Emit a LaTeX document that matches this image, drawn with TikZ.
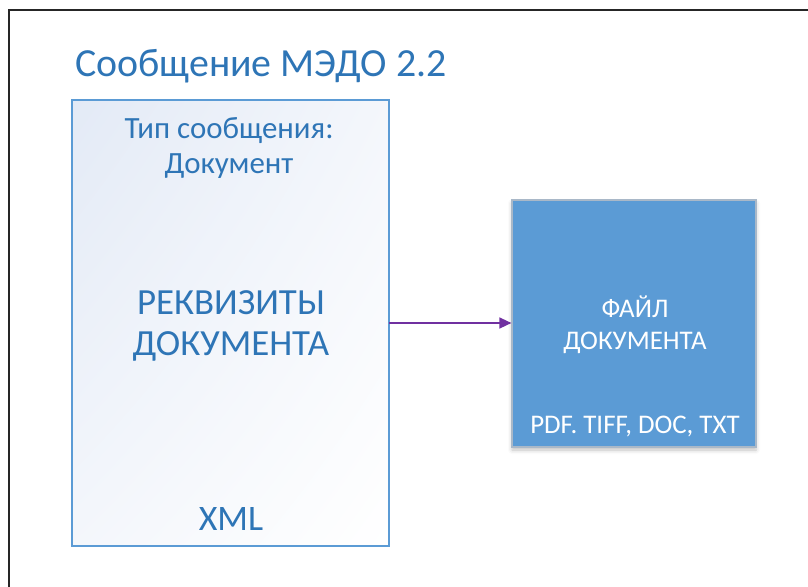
\documentclass[tikz,border=0pt]{standalone}
\usepackage{fontspec}
\setmainfont{Carlito}
\usetikzlibrary{arrows.meta,shadows.blur,shadings}
\definecolor{ttl}{HTML}{2E75B6}
\definecolor{lbord}{HTML}{5B9BD5}
\definecolor{rfill}{HTML}{5B9BD5}
\definecolor{rbord}{HTML}{A9B8C8}
\definecolor{grad1}{HTML}{E3EAF6}
\definecolor{arr}{HTML}{7030A0}
\tikzset{
  lbl/.style={anchor=base, text=ttl, inner sep=0pt},
  wlbl/.style={anchor=base, text=white, inner sep=0pt},
}
\begin{document}
\begin{tikzpicture}[x=1bp,y=-1bp]
\useasboundingbox (0,0) rectangle (808,587);
\begin{scope}
\clip (0,0) rectangle (808,587);
\draw[line width=2bp, black!85] (9,10) rectangle (830,610);
\end{scope}
\node[lbl, anchor=base west, font=\fontsize{40}{44}\selectfont] (title) at (75,77) {Сообщение МЭДО 2.2};
% left box
\shade[upper left=grad1, lower right=white, upper right=white!60!grad1, lower left=white!60!grad1] (72,100) rectangle (389,546);
\draw[lbord, line width=1.6bp] (72,100) rectangle (389,546);
\node[draw=none, minimum width=317bp, minimum height=446bp, inner sep=0pt] (left) at (230.5,323) {};
\node[lbl, font=\fontsize{31}{34}\selectfont] (t1) at (229,139) {Тип сообщения:};
\node[lbl, font=\fontsize{31}{34}\selectfont] (t2) at (229,174) {Документ};
\node[lbl, font=\fontsize{37}{40}\selectfont] (t3) at (231,314) {РЕКВИЗИТЫ};
\node[lbl, font=\fontsize{37}{40}\selectfont] (t4) at (231,355) {ДОКУМЕНТА};
\node[lbl, font=\fontsize{36}{40}\selectfont] (t5) at (231,530) {XML};
% right box
\node[fill=rfill, draw=rbord, line width=1.2bp, minimum width=244bp, minimum height=247bp, inner sep=0pt,
  blur shadow={shadow xshift=0bp, shadow yshift=-3bp, shadow blur radius=4bp, shadow opacity=25}] (right) at (634,323.5) {};
\node[wlbl, font=\fontsize{27}{30}\selectfont] (r1) at (635,317) {ФАЙЛ};
\node[wlbl, font=\fontsize{27}{30}\selectfont] (r2) at (635,349) {ДОКУМЕНТА};
\node[wlbl, font=\fontsize{27}{30}\selectfont] (r3) at (635,433) {PDF. TIFF, DOC, TXT};
\draw[arr, line width=1.5bp, -{Triangle[length=12bp,width=11bp]}] (left.east |- 0,323) -- (right.west |- 0,323);
\end{tikzpicture}
\end{document}
